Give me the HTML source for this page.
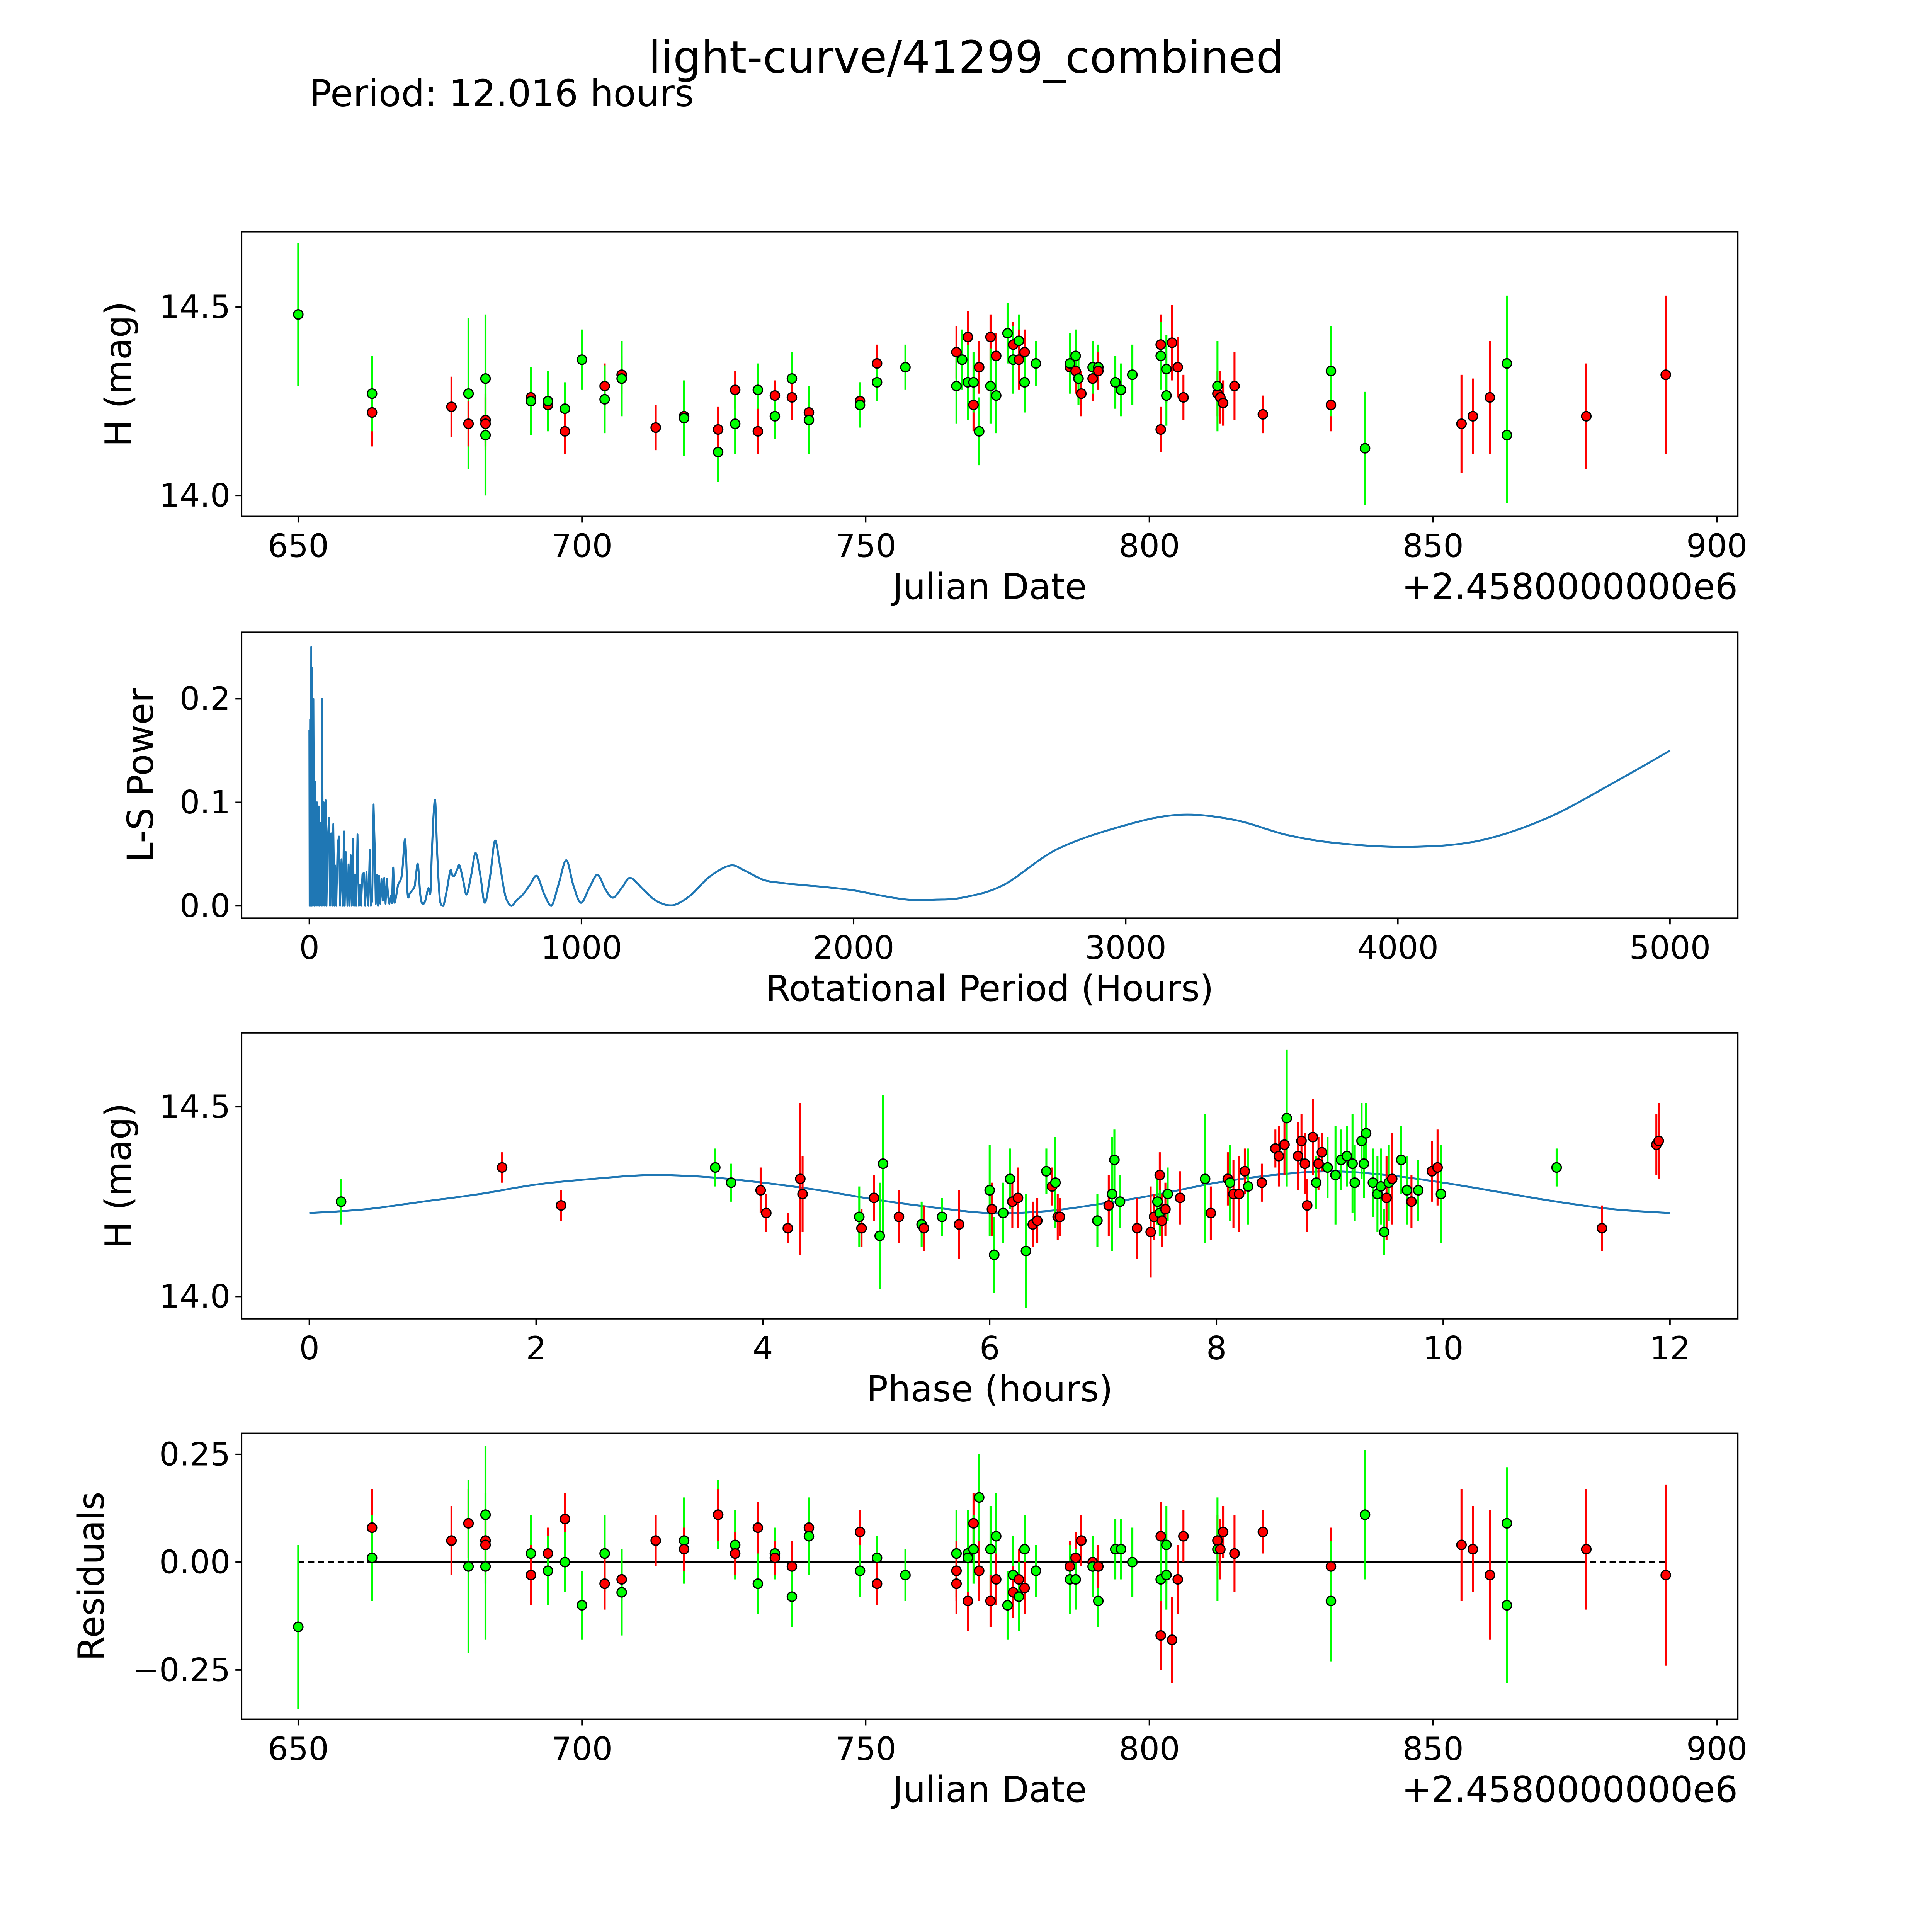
<!DOCTYPE html>
<html><head><meta charset="utf-8"><title>light-curve/41299_combined</title>
<style>html,body{margin:0;padding:0;background:#fff;overflow:hidden}svg{display:block}text{font-family:"DejaVu Sans","Liberation Sans",sans-serif;fill:#000}</style>
</head><body>
<svg id="fig" xmlns="http://www.w3.org/2000/svg" width="5400" height="5400" viewBox="0 0 1693 1693">
<rect width="1693" height="1693" fill="#fff"/>
<text x="784" y="59" font-size="36" text-anchor="middle">light-curve/41299_combined</text>
<text x="251" y="86" font-size="30">Period: 12.016 hours</text>
</svg>
<script>
// ---- Panel 1: raw light curve ----
const lcDates=[650,663,663,677,680,680,683,683,683,683,691,691,694,694,697,697,700,704,704,707,707,713,718,718,724,724,727,727,731,731,734,734,737,737,740,740,749,749,752,752,757,766,766,767,767,768,768,769,769,770,770,772,772,773,773,775,776,776,777,777,778,778,780,786,786,787,787,787.5,788,790,790,791,791,794,795,797,802,802,802,803,803,804,805,806,812,812,812.5,813,815,820,832,832,838,855,857,860,863,863,877,891];
const lcMags=[14.48,14.22,14.27,14.235,14.27,14.19,14.31,14.20,14.19,14.16,14.26,14.25,14.24,14.25,14.23,14.17,14.36,14.29,14.255,14.32,14.31,14.18,14.21,14.205,14.115,14.175,14.28,14.19,14.28,14.17,14.265,14.21,14.31,14.26,14.22,14.20,14.25,14.24,14.35,14.30,14.34,14.38,14.29,14.36,14.36,14.42,14.30,14.24,14.30,14.17,14.34,14.42,14.29,14.37,14.265,14.43,14.40,14.36,14.41,14.36,14.38,14.30,14.35,14.34,14.35,14.33,14.37,14.31,14.27,14.31,14.34,14.34,14.33,14.30,14.28,14.32,14.40,14.37,14.175,14.335,14.265,14.405,14.34,14.26,14.27,14.29,14.26,14.245,14.29,14.215,14.24,14.33,14.125,14.19,14.21,14.26,14.35,14.16,14.21,14.32];
const lcErrs=[0.19,0.09,0.1,0.08,0.2,0.06,0.17,0.07,0.07,0.16,0.07,0.09,0.06,0.08,0.07,0.06,0.08,0.06,0.09,0.05,0.1,0.06,0.05,0.1,0.08,0.06,0.05,0.08,0.07,0.06,0.04,0.06,0.07,0.06,0.05,0.09,0.05,0.06,0.05,0.05,0.06,0.07,0.1,0.07,0.08,0.07,0.1,0.07,0.08,0.09,0.07,0.06,0.1,0.06,0.1,0.08,0.06,0.09,0.07,0.08,0.06,0.08,0.06,0.06,0.08,0.06,0.07,0.07,0.06,0.06,0.07,0.06,0.05,0.07,0.07,0.08,0.08,0.09,0.06,0.09,0.08,0.1,0.08,0.06,0.06,0.12,0.07,0.06,0.09,0.05,0.07,0.12,0.15,0.13,0.1,0.15,0.18,0.18,0.14,0.21];
const lcBands=("grgrgrgrrg"+"rgrggrgrgr"+"grrggrrggr"+"rggrrgrgrg"+"grgrgrgrgg"+"rrgrggrggr"+"rggrgrggrr"+"ggrgggrgrg"+"grrrrgrrrr"+"rggrrrggrr").split("");
// ---- Panel 2: periodogram ----
const lsPeriods=[0,1,3,5,7,9,11,13,15,18,
 21,25,28,32,35,38,41,44,47,50,
 53,57,60,63,67,72,76,80,84,88,
 92,95,99,104,109,113,118,123,127,130,
 134,140,144,148,152,156,160,164,168,172,
 177,182,186,190,195,200,205,210,214,217,
 222,226,231,236,240,244,248,252,256,261,
 265,270,275,280,285,290,294,300,304,308,
 312,318,326,340,352,361,369,378,387,392,
 399,408,416,426,437,445,450,457,463,470,
 480,492,505,518,525,533,543,552,565,578,
 595,611,628,645,665,682,700,720,742,760,
 785,810,836,862,889,915,944,970,998,1030,
 1059,1090,1117,1150,1180,1230,1280,1336,1400,1470,
 1547,1600,1670,1740,1817,1900,2000,2100,2200,2300,
 2400,2550,2750,3000,3200,3400,3600,3800,4050,4300,
 4550,4800,5000];
const lsPower=[0.17,0,0.18,0,0.25,0,0.23,0,0.2,0,
 0.12,0,0.1,0,0.096,0,0.08,0,0.2,0,
 0.1,0,0.102,0,0.06,0.085,0,0.07,0,0.079,
 0,0.039,0,0.06,0.067,0,0.045,0,0.072,0,
 0.052,0,0.04,0,0.049,0,0.065,0,0.03,0,
 0.069,0,0.02,0,0.03,0.032,0,0.033,0.005,0,
 0.054,0,0.005,0.098,0.06,0.002,0.03,0,0.029,0.002,
 0.026,0.005,0.027,0.002,0.026,0.008,0.002,0.01,0.002,0.037,
 0.005,0.008,0.02,0.03,0.064,0.012,0.012,0.015,0.019,0.03,
 0.040,0.01,0.002,0.005,0.017,0.013,0.05,0.09,0.100,0.05,
 0.005,0,0.015,0.034,0.03,0.029,0.035,0.039,0.025,0.011,
 0.03,0.051,0.03,0.003,0.03,0.063,0.04,0.01,0,0.005,
 0.011,0.02,0.029,0.012,0,0.02,0.044,0.02,0.003,0.018,
 0.030,0.015,0.008,0.018,0.027,0.015,0.004,0.0006,0.01,0.028,
 0.039,0.034,0.025,0.022,0.020,0.018,0.015,0.01,0.006,0.006,
 0.008,0.02,0.055,0.078,0.088,0.083,0.068,0.06,0.057,0.063,
 0.085,0.12,0.15];
// ---- Panel 3: phased light curve ----
const phPhases=[0.28,1.7,2.22,3.58,3.72,3.98,4.03,4.22,4.33,4.35,4.85,4.87,4.98,5.03,5.06,5.2,5.4,5.42,5.58,5.73,6.0,6.02,6.04,6.12,6.18,6.2,6.25,6.32,6.38,6.42,6.5,6.55,6.58,6.6,6.62,6.95,7.05,7.08,7.1,7.15,7.3,7.42,7.45,7.48,7.5,7.5,7.52,7.55,7.57,7.68,7.9,7.95,8.1,8.12,8.15,8.2,8.25,8.28,8.4,8.52,8.55,8.6,8.62,8.72,8.75,8.78,8.8,8.85,8.88,8.9,8.93,8.98,9.05,9.1,9.15,9.2,9.22,9.28,9.3,9.32,9.38,9.42,9.45,9.48,9.5,9.52,9.55,9.63,9.68,9.72,9.78,9.9,9.95,9.98,11.0,11.4,11.88,11.9];
const phMags=[14.25,14.34,14.24,14.34,14.30,14.28,14.22,14.18,14.31,14.27,14.21,14.18,14.26,14.16,14.35,14.21,14.19,14.18,14.21,14.19,14.28,14.23,14.11,14.22,14.31,14.25,14.26,14.12,14.19,14.20,14.33,14.29,14.30,14.21,14.21,14.20,14.24,14.27,14.36,14.25,14.18,14.17,14.21,14.25,14.32,14.22,14.20,14.23,14.27,14.26,14.31,14.22,14.31,14.30,14.27,14.27,14.33,14.29,14.30,14.39,14.37,14.40,14.47,14.37,14.41,14.35,14.24,14.42,14.30,14.35,14.38,14.34,14.32,14.36,14.37,14.35,14.30,14.41,14.35,14.43,14.30,14.27,14.29,14.17,14.26,14.30,14.31,14.36,14.28,14.25,14.28,14.33,14.34,14.27,14.34,14.18,14.40,14.41];
const phErrs=[0.06,0.04,0.04,0.05,0.05,0.06,0.05,0.04,0.2,0.1,0.08,0.05,0.06,0.14,0.18,0.07,0.06,0.06,0.05,0.09,0.12,0.07,0.1,0.08,0.08,0.07,0.08,0.15,0.06,0.06,0.06,0.05,0.12,0.06,0.05,0.07,0.08,0.15,0.08,0.07,0.08,0.12,0.06,0.06,0.06,0.06,0.07,0.07,0.07,0.07,0.17,0.07,0.07,0.1,0.09,0.1,0.06,0.1,0.05,0.05,0.08,0.08,0.18,0.09,0.07,0.08,0.07,0.1,0.07,0.07,0.05,0.08,0.13,0.08,0.08,0.13,0.1,0.1,0.09,0.08,0.09,0.1,0.1,0.06,0.11,0.1,0.12,0.09,0.09,0.07,0.08,0.08,0.1,0.13,0.05,0.06,0.08,0.1];
const phBands=("grrggrrrrr"+"grrggrgrgr"+"grgggrrgrr"+"grgrrgrggg"+"rrrgrgrrgr"+"grrgrrrgrr"+"rrgrrrrrgr"+"rggggggggg"+"ggggrgrggr"+"grrggrrr").split("");
const fitPhases=[0,0.5,1,1.5,2,2.5,3,3.5,4,4.5,5,5.5,6,6.5,7,7.5,8,8.5,9,9.5,10,10.5,11,11.5,12];
const fitMags=[14.22,14.23,14.25,14.27,14.295,14.31,14.32,14.315,14.30,14.28,14.255,14.235,14.22,14.225,14.245,14.27,14.30,14.32,14.33,14.32,14.30,14.275,14.25,14.23,14.22];
// ---- Panel 4: residuals ----
const rsDates=[650,663,663,677,680,680,683,683,683,683,691,691,694,694,697,697,700,704,704,707,707,713,718,718,724,724,727,727,731,731,734,734,737,737,740,740,749,749,752,752,757,766,766,766,768,768,768,769,769,770,770,772,772,773,773,775,776,776,777,777,778,778,780,786,786,787,787,788,790,790,791,791,794,795,797,802,802,802,803,803,804,805,806,812,812,812.5,813,815,820,832,832,838,855,857,860,863,863,877,891];
const rsVals=[-0.15,0.08,0.01,0.05,0.09,-0.01,0.11,0.05,0.04,-0.01,0.02,-0.03,0.02,-0.02,0.1,0,-0.1,0.02,-0.05,-0.04,-0.07,0.05,0.05,0.03,0.11,0.11,0.04,0.02,0.08,-0.05,0.02,0.01,-0.01,-0.08,0.08,0.06,0.07,-0.02,0.01,-0.05,-0.03,0.02,-0.05,-0.02,0.02,-0.09,0.01,0.09,0.03,0.15,-0.02,0.03,-0.09,0.06,-0.04,-0.1,-0.03,-0.07,-0.04,-0.08,0.03,-0.06,-0.02,-0.01,-0.04,0.01,-0.04,0.05,0,-0.01,-0.09,-0.01,0.03,0.03,0.0,0.06,-0.04,-0.17,0.04,-0.03,-0.18,-0.04,0.06,0.05,0.03,0.03,0.07,0.02,0.07,-0.01,-0.09,0.11,0.04,0.03,-0.03,0.09,-0.1,0.03,-0.03];
const rsErrs=[0.19,0.09,0.1,0.08,0.08,0.2,0.16,0.06,0.07,0.17,0.09,0.07,0.06,0.08,0.06,0.07,0.08,0.09,0.06,0.05,0.1,0.06,0.1,0.05,0.08,0.06,0.08,0.05,0.06,0.07,0.06,0.04,0.06,0.07,0.06,0.09,0.05,0.06,0.05,0.05,0.06,0.1,0.07,0.07,0.1,0.07,0.08,0.07,0.08,0.1,0.07,0.1,0.06,0.1,0.06,0.08,0.09,0.06,0.07,0.08,0.08,0.06,0.06,0.06,0.08,0.06,0.07,0.06,0.06,0.07,0.06,0.05,0.07,0.07,0.08,0.08,0.09,0.08,0.09,0.08,0.1,0.08,0.06,0.06,0.12,0.07,0.06,0.09,0.05,0.09,0.14,0.15,0.13,0.1,0.15,0.13,0.18,0.14,0.21];
const rsBands=("grgrrggrrg"+"grrgrgggrr"+"grgrgrgrrg"+"grrgrgrggr"+"ggrrgrgrgg"+"rgrgrggrrg"+"grgrgrgrrg"+"grgggrgrgg"+"rrrrgrrrrr"+"ggrrrggrr").split("");
// tick arrays
const xTicksJD=[650,700,750,800,850,900];
const xTicksLS=[0,1000,2000,3000,4000,5000];
const xTicksPh=[0,2,4,6,8,10,12];
const yTicksMag=[14.0,14.5];
const yTicksLS=[0.0,0.1,0.2];
const yTicksRes=[-0.25,0,0.25];
const yTickLabelsRes=["\u22120.25","0.00","0.25"];

const NS="http://www.w3.org/2000/svg";
const svg=document.getElementById('fig');
function el(tag,attrs,parent){const e=document.createElementNS(NS,tag);for(const k in attrs)e.setAttribute(k,attrs[k]);(parent||svg).appendChild(e);return e;}
function lin(d0,d1,p0,p1){return v=>p0+(v-d0)*(p1-p0)/(d1-d0);}
function spline(pts,ymax){
  let d='M'+pts[0][0]+','+pts[0][1];
  const cl=y=>ymax===undefined?y:Math.min(y,ymax);
  for(let i=0;i<pts.length-1;i++){
    const p0=pts[Math.max(0,i-1)],p1=pts[i],p2=pts[i+1],p3=pts[Math.min(pts.length-1,i+2)];
    const c1=[p1[0]+(p2[0]-p0[0])/6,cl(p1[1]+(p2[1]-p0[1])/6)];
    const c2=[p2[0]-(p3[0]-p1[0])/6,cl(p2[1]-(p3[1]-p1[1])/6)];
    d+=` C${c1[0]},${c1[1]} ${c2[0]},${c2[1]} ${p2[0]},${p2[1]}`;
  }
  return d;
}
const L=196,R=1410;
const TICK_FS=26, LABEL_FS=29;
function panel(name,top,bot){
  const g=el('g',{});
  
  
  return {g,top,bot};
}
function frame(p,xt,xtl,yt,ytl,xlabel,ylabel,ylx,offset){
  const r=el('rect',{x:L,y:p.top,width:R-L,height:p.bot-p.top,fill:'none',stroke:'#000','stroke-width':1.2},p.g);
  
  
  xt.forEach((v,i)=>{const X=p.x(v);
    el('line',{x1:X,x2:X,y1:p.bot,y2:p.bot+5,stroke:'#000','stroke-width':1.2},p.g);
    const t=el('text',{x:X,y:p.bot+33,'font-size':TICK_FS,'text-anchor':'middle'},p.g);t.textContent=xtl[i];
    
    });
  yt.forEach((v,i)=>{const Y=p.y(v);
    el('line',{x1:L-5,x2:L,y1:Y,y2:Y,stroke:'#000','stroke-width':1.2},p.g);
    const t=el('text',{x:L-9,y:Y+9,'font-size':TICK_FS,'text-anchor':'end'},p.g);t.textContent=ytl[i];
    
    });
  const xl=el('text',{x:(L+R)/2,y:p.bot+67,'font-size':LABEL_FS,'text-anchor':'middle'},p.g);xl.textContent=xlabel;
  
  
  const cy=(p.top+p.bot)/2;
  const yl=el('text',{x:ylx,y:cy,'font-size':LABEL_FS,'text-anchor':'middle',transform:`rotate(-90 ${ylx} ${cy})`},p.g);yl.textContent=ylabel;
  
  
  if(offset){const o=el('text',{x:R,y:p.bot+67,'font-size':LABEL_FS,'text-anchor':'end'},p.g);o.textContent=offset;
    
    }
}
function points(p,xs,ys,es,bs,nm){
  xs.forEach((v,i)=>{const X=p.x(v),c=bs[i]==='g'?'#00ff00':'#ff0000';
    const ln=el('line',{x1:X,x2:X,y1:p.y(ys[i]-es[i]),y2:p.y(ys[i]+es[i]),stroke:c,'stroke-width':1.6},p.g);
    
    });
  xs.forEach((v,i)=>{const c=bs[i]==='g'?'#00ff00':'#ff0000';
    const cc=el('circle',{cx:p.x(v),cy:p.y(ys[i]),r:3.8,fill:c,stroke:'#000','stroke-width':1},p.g);
    
    });
}
const jdLabels=xTicksJD.map(String), magLabels=yTicksMag.map(v=>v.toFixed(1));
// Panel 1
const p1=panel('light-curve-panel',188,419);
p1.x=lin(650,900,242,1393);p1.y=lin(14.0,14.5,402,249);
frame(p1,xTicksJD,jdLabels,yTicksMag,magLabels,'Julian Date','H (mag)',106,'+2.4580000000e6');
points(p1,lcDates,lcMags,lcErrs,lcBands,'light-curve');
// Panel 2
const p2=panel('periodogram-panel',513,745);
p2.x=lin(0,5000,251,1355);p2.y=lin(0,0.2,735,567);
const n=Math.min(lsPeriods.length,lsPower.length);
let split=lsPeriods.findIndex(v=>v>=304); if(split<0||split>=n) split=n-1;
const spiky=lsPeriods.slice(0,split+1).map((v,i)=>p2.x(v)+','+p2.y(lsPower[i])).join(' ');
frame(p2,xTicksLS,xTicksLS.map(String),yTicksLS,yTicksLS.map(v=>v.toFixed(1)),'Rotational Period (Hours)','L-S Power',124,null);
const pl=el('polyline',{points:spiky,fill:'none',stroke:'#1f77b4','stroke-width':1.5,'stroke-linejoin':'round'},p2.g);


const smoothPts=[];
for(let i=split;i<n;i++) smoothPts.push([p2.x(lsPeriods[i]),p2.y(lsPower[i])]);
const sp=el('path',{d:spline(smoothPts,p2.y(0)),fill:'none',stroke:'#1f77b4','stroke-width':1.6},p2.g);


// Panel 3
const p3=panel('phased-panel',838,1070);
p3.x=lin(0,12,251,1355);p3.y=lin(14.0,14.5,1052,898);
frame(p3,xTicksPh,xTicksPh.map(String),yTicksMag,magLabels,'Phase (hours)','H (mag)',106,null);
const fit=el('path',{d:spline(fitPhases.map((v,i)=>[p3.x(v),p3.y(fitMags[i])])),fill:'none',stroke:'#1f77b4','stroke-width':1.6},p3.g);


points(p3,phPhases,phMags,phErrs,phBands,'phased');
// Panel 4
const p4=panel('residuals-panel',1163,1395);
p4.x=lin(650,900,242,1393);p4.y=lin(-0.25,0.25,1355,1180);
frame(p4,xTicksJD,jdLabels,yTicksRes,yTickLabelsRes,'Julian Date','Residuals',84,'+2.4580000000e6');
const zl=el('line',{x1:p4.x(650),x2:p4.x(891),y1:p4.y(0),y2:p4.y(0),stroke:'#000','stroke-width':1.2,'stroke-dasharray':'5,3'},p4.g);


const zs=el('line',{x1:p4.x(663),x2:p4.x(877),y1:p4.y(0),y2:p4.y(0),stroke:'#000','stroke-width':1.4},p4.g);


points(p4,rsDates,rsVals,rsErrs,rsBands,'residual');
</script>
</body></html>
